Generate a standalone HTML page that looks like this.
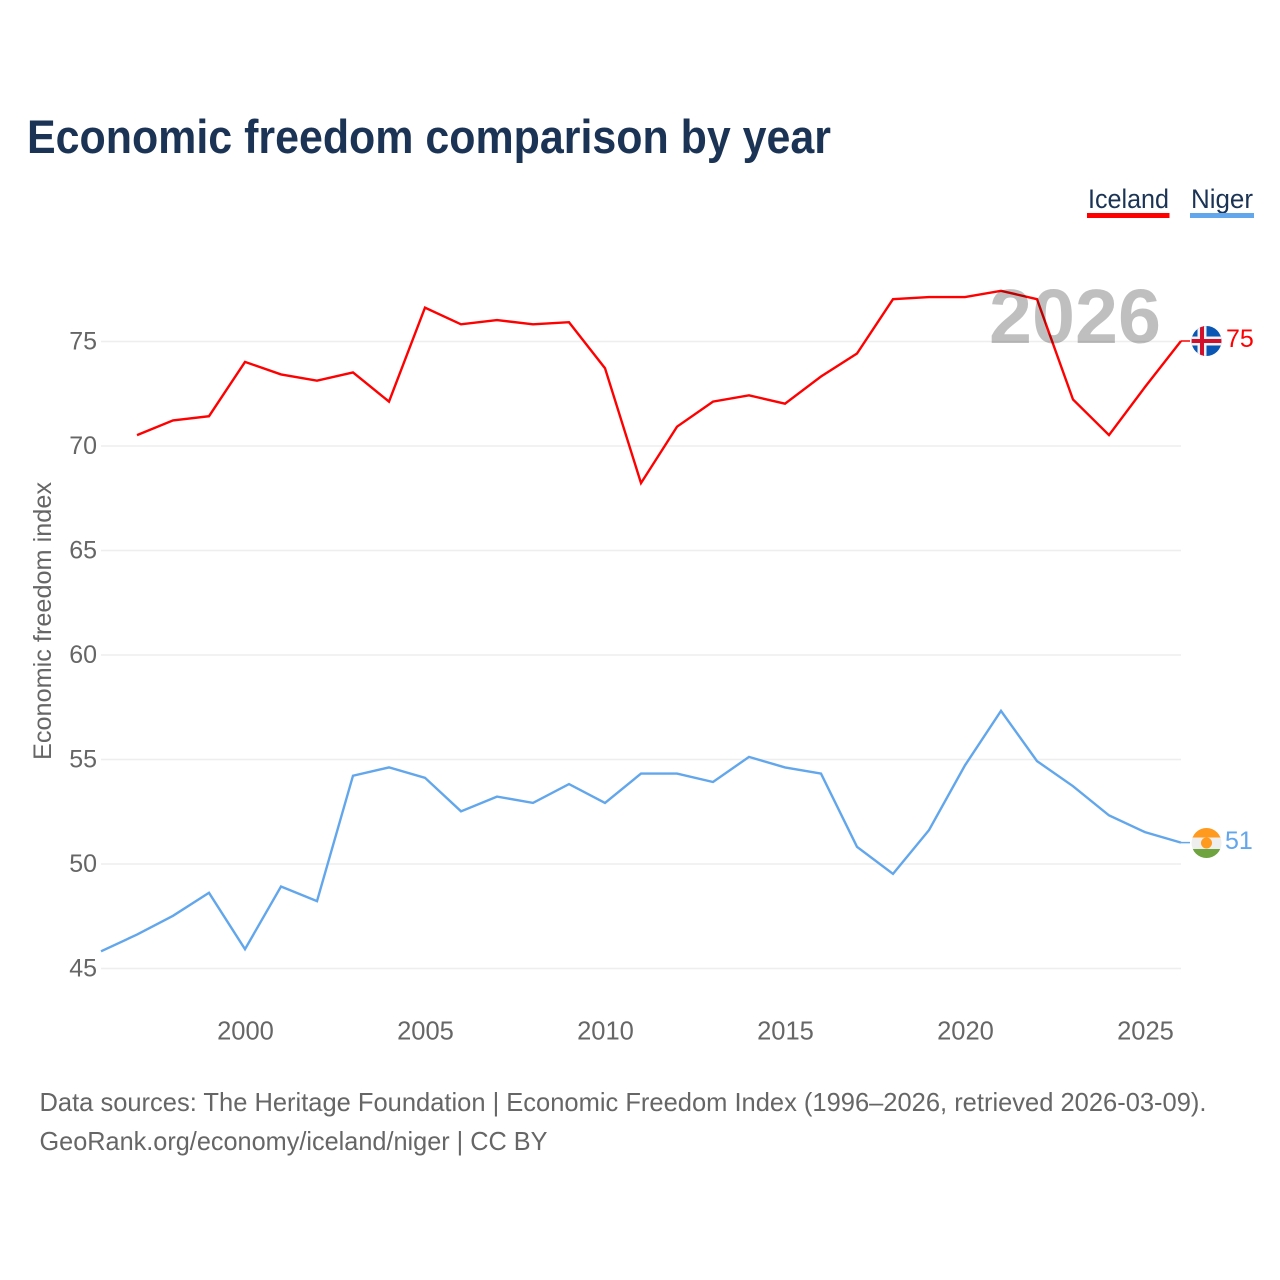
<!DOCTYPE html>
<html lang="en">
<head>
<meta charset="utf-8">
<title>Economic freedom comparison by year</title>
<style>
html,body{margin:0;padding:0;background:#fff}
svg{display:block;font-family:"Liberation Sans",sans-serif}
</style>
</head>
<body>
<svg id="chart" xmlns="http://www.w3.org/2000/svg" width="1280" height="1280" viewBox="0 0 1280 1280">
<rect width="1280" height="1280" fill="#ffffff"/>
<text x="27" y="153" font-size="47" font-weight="700" fill="#1b3354" textLength="804" lengthAdjust="spacingAndGlyphs">Economic freedom comparison by year</text>
<g>
<g>
<text x="1088" y="208" font-size="27" fill="#1b3354" textLength="81" lengthAdjust="spacingAndGlyphs">Iceland</text>
<rect x="1087" y="213" width="82.5" height="5" fill="#ff0000"/>
</g>
<g>
<text x="1191" y="208" font-size="27" fill="#1b3354" textLength="62" lengthAdjust="spacingAndGlyphs">Niger</text>
<rect x="1190" y="213" width="64" height="5" fill="#62a6ec"/>
</g>
</g>
<g id="grid"></g>
<g id="yticks"></g>
<g id="xticks"></g>
<text transform="translate(51,760) rotate(-90)" font-size="25" fill="#666666" textLength="278" lengthAdjust="spacingAndGlyphs">Economic freedom index</text>
<g id="series"></g>
<text x="989" y="343" font-size="77" font-weight="700" fill="#000000" fill-opacity="0.25" textLength="172" lengthAdjust="spacingAndGlyphs">2026</text>
<defs>
<clipPath id="clip-flag-is"><circle cx="1206.5" cy="341" r="15"/></clipPath>
<clipPath id="clip-flag-ne"><circle cx="1206.5" cy="843" r="15"/></clipPath>
</defs>
<g clip-path="url(#clip-flag-is)">
<rect x="1191" y="326" width="31" height="31" fill="#0a56b5"/>
<rect x="1191" y="336.500" width="31" height="9" fill="#f2f2f2"/>
<rect x="1197.500" y="326" width="9" height="31" fill="#f2f2f2"/>
<rect x="1191" y="339" width="31" height="4" fill="#d0102c"/>
<rect x="1200" y="326" width="4" height="31" fill="#d0102c"/>
</g>
<g clip-path="url(#clip-flag-ne)">
<rect x="1191" y="828" width="31" height="10" fill="#ff9a1f"/>
<rect x="1191" y="837.500" width="31" height="11.500" fill="#eeeeee"/>
<rect x="1191" y="849" width="31" height="10" fill="#6ea33f"/>
<circle cx="1206.500" cy="843" r="5.500" fill="#ff9a1f"/>
</g>
<text x="1226" y="347" font-size="25" fill="#ff0000">75</text>
<text x="1225" y="849" font-size="25" fill="#62a6ec">51</text>
<text x="39.500" y="1111" font-size="26" fill="#666666" textLength="1167" lengthAdjust="spacingAndGlyphs">Data sources: The Heritage Foundation | Economic Freedom Index (1996–2026, retrieved 2026-03-09).</text>
<text x="39.500" y="1150" font-size="26" fill="#666666" textLength="508" lengthAdjust="spacingAndGlyphs">GeoRank.org/economy/iceland/niger | CC BY</text>
</svg>
<script>
const years = [1996,1997,1998,1999,2000,2001,2002,2003,2004,2005,2006,2007,2008,2009,2010,2011,2012,2013,2014,2015,2016,2017,2018,2019,2020,2021,2022,2023,2024,2025,2026];
const icelandValues = [null,70.5,71.2,71.4,74.0,73.4,73.1,73.5,72.1,76.6,75.8,76.0,75.8,75.9,73.7,68.2,70.9,72.1,72.4,72.0,73.3,74.4,77.0,77.1,77.1,77.4,77.0,72.2,70.5,72.8,75.0];
const nigerValues = [45.8,46.6,47.5,48.6,45.9,48.9,48.2,54.2,54.6,54.1,52.5,53.2,52.9,53.8,52.9,54.3,54.3,53.9,55.1,54.6,54.3,50.8,49.5,51.6,54.7,57.3,54.9,53.7,52.3,51.5,51.0];
const yTickValues = [45,50,55,60,65,70,75];
const xTickValues = [2000,2005,2010,2015,2020,2025];

const NS = 'http://www.w3.org/2000/svg';
function xScale(year) { return 101 + (year - 1996) * 36; }
function yScale(value) { return 341 + (75 - value) * 20.9; }
function make(tag, parent, attrs) {
  const el = document.createElementNS(NS, tag);
  Object.keys(attrs).forEach(function (k) { el.setAttribute(k, attrs[k]); });
  parent.appendChild(el);
  return el;
}
const grid = document.getElementById('grid');
const yticks = document.getElementById('yticks');
const xticks = document.getElementById('xticks');
const series = document.getElementById('series');

yTickValues.forEach(function (v) {
  const line = make('line', grid, {x1: 101, x2: 1181, y1: yScale(v) + 0.5, y2: yScale(v) + 0.5, stroke: '#eeeeee', 'stroke-width': 1.5});
  
  
  const label = make('text', yticks, {x: 97, y: yScale(v) + 8.5, 'text-anchor': 'end', 'font-size': 25, fill: '#666666'});
  
  
  label.textContent = String(v);
});

xTickValues.forEach(function (year) {
  const label = make('text', xticks, {x: xScale(year) + 0.5, y: 1039.5, 'text-anchor': 'middle', 'font-size': 25.5, fill: '#666666'});
  
  
  label.textContent = String(year);
});

function drawLine(values, color, name) {
  const pts = [];
  values.forEach(function (v, i) {
    if (v !== null) pts.push(xScale(years[i]).toFixed(1) + ',' + yScale(v).toFixed(1));
  });
  const line = make('polyline', series, {points: pts.join(' '), fill: 'none', stroke: color, 'stroke-width': 2.4, 'stroke-linejoin': 'miter'});
  
  
  const last = values[values.length - 1];
  const leader = make('line', series, {x1: xScale(years[years.length - 1]), x2: 1190, y1: yScale(last), y2: yScale(last), stroke: color, 'stroke-width': 1.5});
  
  
}
drawLine(icelandValues, '#ff0000', 'iceland-line');
drawLine(nigerValues, '#62a6ec', 'niger-line');
</script>
</body>
</html>
